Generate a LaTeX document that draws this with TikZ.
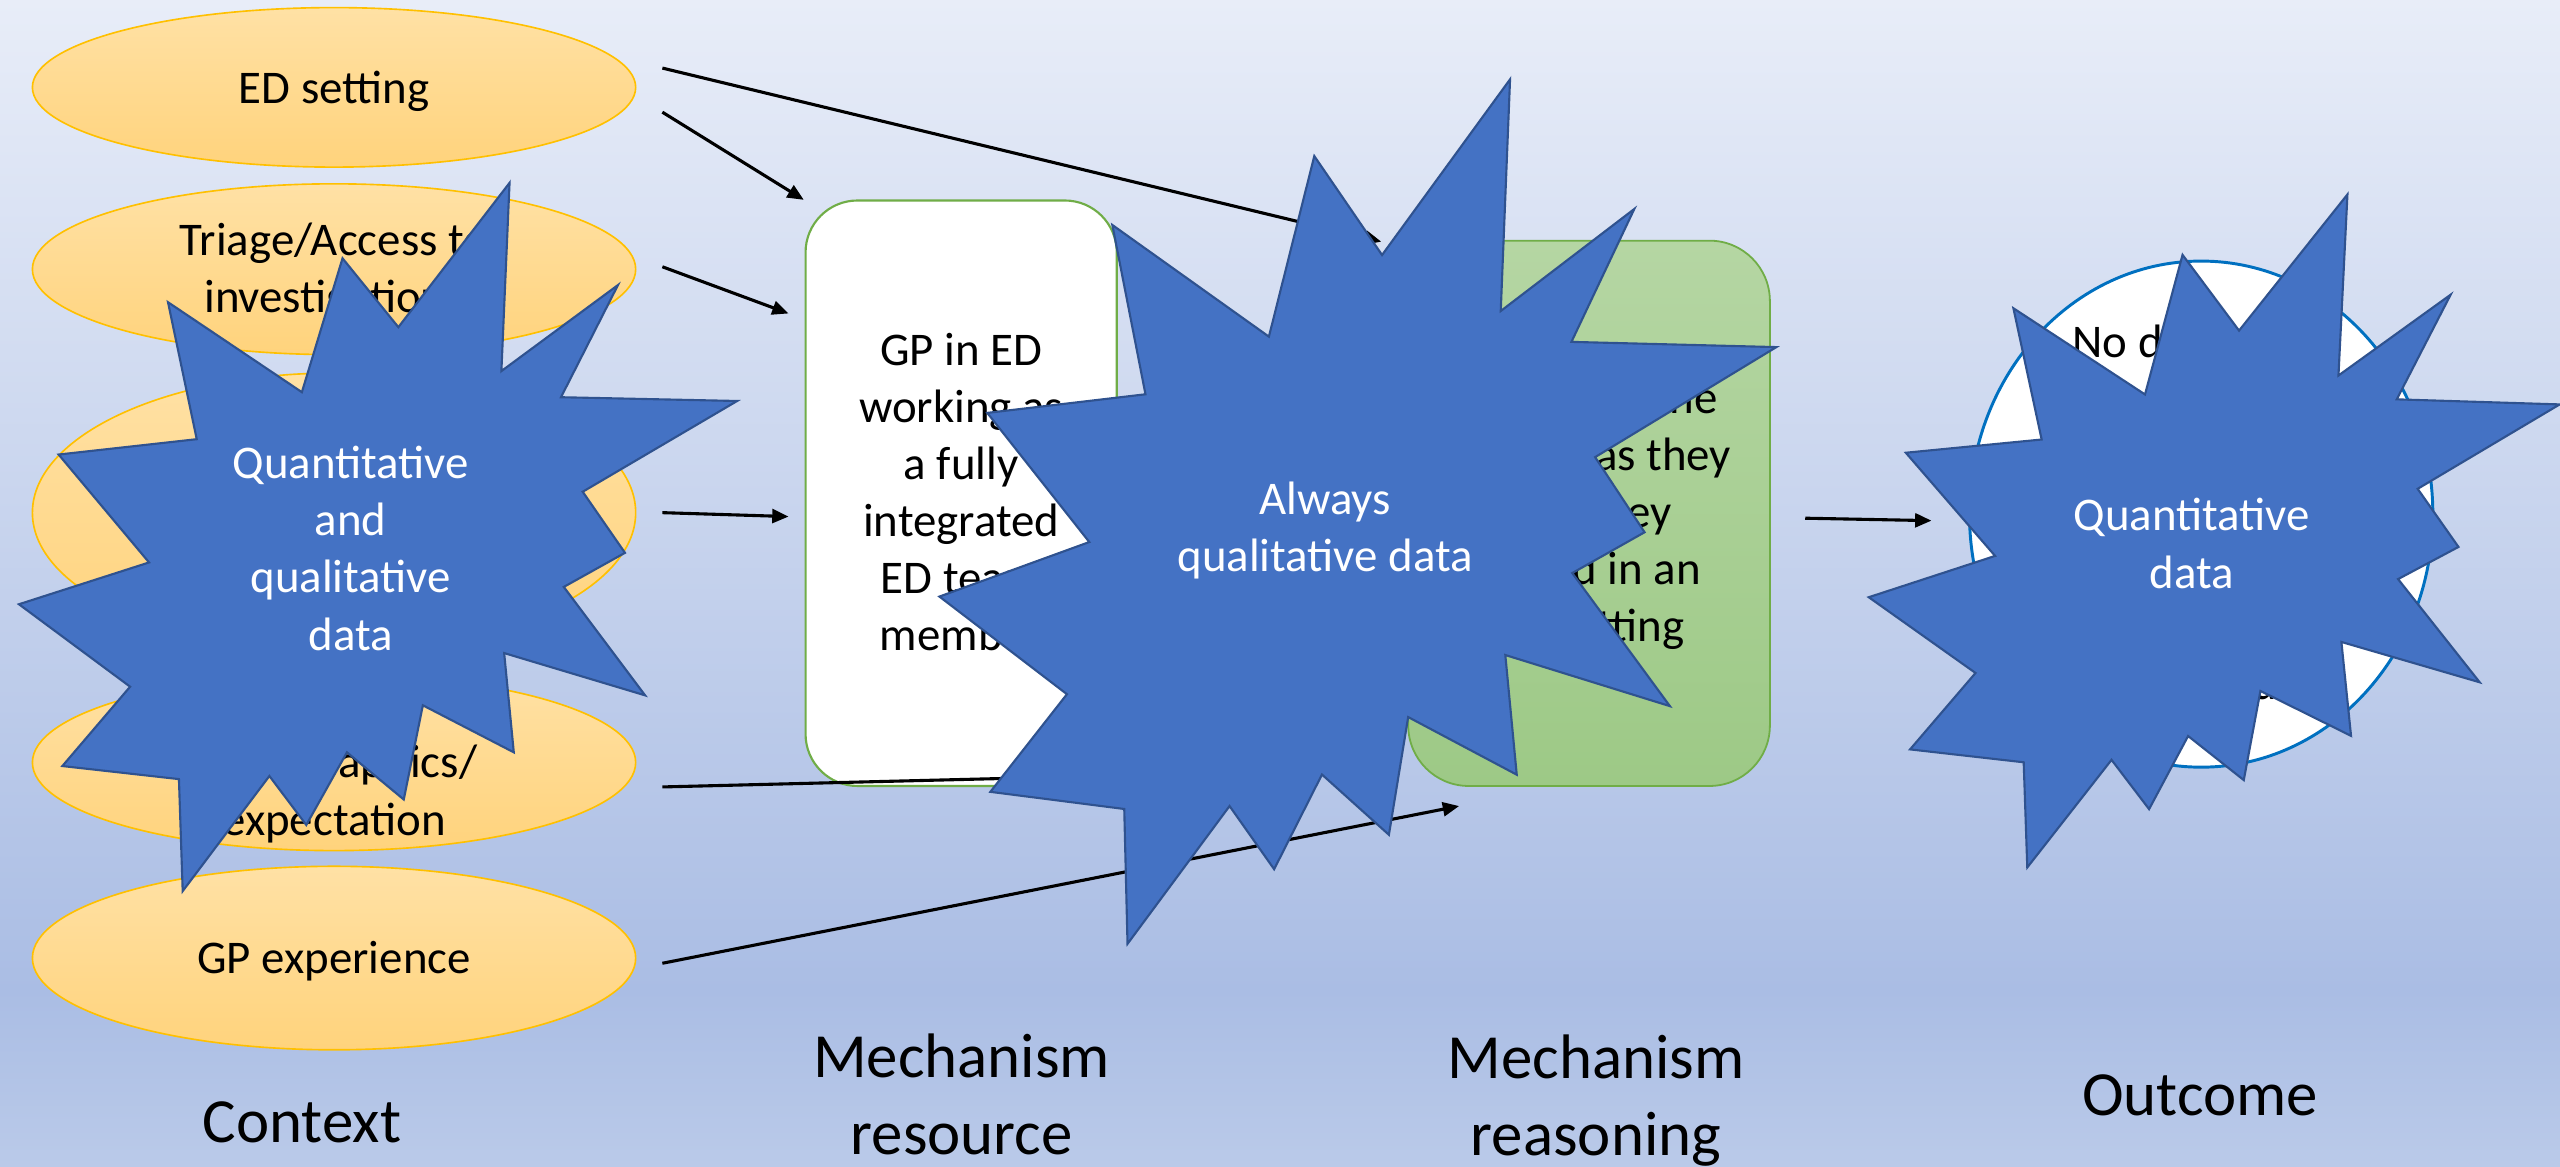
\documentclass[tikz,border=0pt]{standalone}
\usepackage{fontspec}
\setmainfont{Carlito}
\usetikzlibrary{shapes.geometric,arrows.meta,calc}
\definecolor{bgtop}{RGB}{232,237,248}
\definecolor{bgmid}{RGB}{170,189,228}
\definecolor{bgbot}{RGB}{186,202,233}
\definecolor{ellTop}{RGB}{255,225,165}
\definecolor{ellBot}{RGB}{255,211,124}
\definecolor{ellLine}{RGB}{255,192,0}
\definecolor{grTop}{RGB}{181,214,163}
\definecolor{grBot}{RGB}{157,201,134}
\definecolor{grLine}{RGB}{112,173,71}
\definecolor{starFill}{RGB}{68,114,196}
\definecolor{starLine}{RGB}{47,82,143}
\definecolor{circLine}{RGB}{0,112,192}
\begin{document}
\begin{tikzpicture}[x=1pt,y=-1pt,
  ctx/.style={ellipse,draw=ellLine,line width=1pt,top color=ellTop,bottom color=ellBot,
    minimum width=369.5pt,inner sep=0pt,outer sep=0pt},
  resbox/.style={rectangle,draw=grLine,line width=1.3pt,fill=white,rounded corners=31.8pt,
    minimum width=190.6pt,minimum height=358.6pt,inner sep=0pt,outer sep=0pt},
  reabox/.style={rectangle,draw=grLine,line width=1.1pt,top color=grTop,bottom color=grBot,
    rounded corners=37pt,minimum width=221.5pt,minimum height=334pt,inner sep=0pt,outer sep=0pt},
  outc/.style={ellipse,draw=circLine,line width=1.8pt,fill=white,minimum width=283.8pt,
    minimum height=310pt,inner sep=0pt,outer sep=0pt},
  body/.style={font=\fontsize{28.7pt}{35pt}\selectfont,align=center,anchor=base,inner sep=0pt},
  startext/.style={body,text=white},
  lbl/.style={font=\fontsize{38.5pt}{47pt}\selectfont,align=center,anchor=base,inner sep=0pt},
  arr/.style={line width=1.9pt,-{Triangle[length=10pt,width=8.5pt]}},
  starshape/.style={fill=starFill,draw=starLine,line width=1.3pt,line join=miter}
]
\useasboundingbox (0,0) rectangle (1568,714.2);
% background
\shade[top color=bgtop,bottom color=bgmid] (0,0) rectangle (1568,607);
\shade[top color=bgmid,bottom color=bgbot] (0,606.5) rectangle (1568,714.2);

% context ellipses (multi-line texts are placed by the baseline of their last line)
\node[ctx,minimum height=97.7pt] (e1) at (204.6,53.5) {};
\node[ctx,minimum height=104.6pt] (e2) at (204.6,164.9) {};
\node[ctx,minimum height=171pt] (e3) at (204.6,314) {};
\node[ctx,minimum height=108pt] (e4) at (204.6,467) {};
\node[ctx,minimum height=112.4pt] (e5) at (204.6,586.8) {};
\node[body] (e1t) at ($(e1.center)+(0,10.2)$) {ED setting};
\node[body] (e2t) at ($(e2.center)+(0,26.6)$) {Triage/Access to\\investigations};
\node[body] (e4t) at ($(e4.center)+(0,44.5)$) {Patient\\demographics/\\expectation};
\node[body] (e5t) at ($(e5.center)+(0,9.5)$) {GP experience};

% mechanism boxes and outcome
\node[resbox] (res) at (588.7,302.1) {};
\node[body] (rest) at ($(res.center)+(0,96.6)$) {GP in ED\\working as\\a fully\\integrated\\ED team\\member};
\node[reabox] (rea) at (973.3,314.4) {};
\node[body] (reat) at ($(rea.center)+(0,78.6)$) {valued by the\\trusted as they\\feel they\\skilled in an\\ED setting};
\node[outc] (out) at (1348.2,314.9) {};
\node[body] (outt) at ($(out.center)+(0,113.8)$) {No difference\\in waiting\\times or\\admissions\\and\\reattendance\\is found};

% column labels
\node[lbl] (lctx) at (185,699.6) {Context};
\node[lbl] (lres) at (589,707) {Mechanism\\resource};
\node[lbl] (lrea) at (977.5,707.6) {Mechanism\\reasoning};
\node[lbl] (lout) at (1347.5,683.5) {Outcome};

% connectors
\draw[arr] ($(e1.east)+(16.35,-11.8)$) -- ($(rea.north west)+(-16.55,0.6)$);
\draw[arr] ($(e1.east)+(16.35,15.2)$) -- ($(res.north west)+(-1.1,-0.4)$);
\draw[arr] ($(e2.east)+(16.35,-1.5)$) -- ($(res.north west)+(-10.4,69.2)$);
\draw[arr] ($(e3.east)+(16.35,0)$) -- ($(res.west)+(-10.4,14.3)$);
\draw[arr] ($(e4.east)+(16.35,15)$) -- ($(rea.south west)+(-14.55,-10.4)$);
\draw[arr] ($(e5.east)+(16.35,3.2)$) -- ($(rea.south west)+(31.15,12.3)$);
\draw[arr] ($(rea.east)+(21.65,3)$) -- ($(out.west)+(-23.3,4)$);

% explosion shapes
\filldraw[starshape] (312.1,112) -- (307.1,227.3) -- (378.5,174.6) -- (343.6,243.3) -- (451.5,245.6)
  -- (356.9,301.2) -- (382.8,338.6) -- (345.3,359.5) -- (395.1,425.9) -- (308.8,400)
  -- (314.7,460.8) -- (259,432) -- (247.3,489.7) -- (212.5,460.8) -- (187.6,505.3)
  -- (165,475.3) -- (111.9,545.8) -- (109.6,477.2) -- (38.2,469.2) -- (79.7,420.6)
  -- (11.6,370.1) -- (91.3,344.5) -- (35.9,278.4) -- (120.5,269) -- (102.9,185.1)
  -- (184.9,240.2) -- (209.8,158.2) -- (244,200.4) -- cycle;
\filldraw[starshape] (924.9,48.6) -- (919.2,190.5) -- (1001,128) -- (962.5,209.4) -- (1088,212.6)
  -- (977,280) -- (1007.3,326) -- (963,351) -- (1022.8,432.5) -- (922,401.2)
  -- (929,474.5) -- (862.5,439.2) -- (850.7,511.3) -- (809.7,474.4) -- (780.4,532.4)
  -- (753.1,493.7) -- (690.6,578.1) -- (688.6,495.5) -- (606.6,485) -- (653.5,425.2)
  -- (575.4,365.4) -- (667.2,332) -- (604.7,252.9) -- (701.6,241.5) -- (681.3,137.8)
  -- (777.2,206.2) -- (805,95.6) -- (846.5,156.2) -- cycle;
\filldraw[starshape] (1437.8,119.1) -- (1432.3,230) -- (1501,180.5) -- (1468,244.6) -- (1567.8,247.7)
  -- (1480.8,299.4) -- (1505.8,335) -- (1468.8,354.7) -- (1518.8,417.9) -- (1434.1,393.2)
  -- (1440,450.7) -- (1384.5,423.2) -- (1374.3,477.8) -- (1340.2,450.8) -- (1316.3,495.6)
  -- (1293.3,465.4) -- (1241.7,531.3) -- (1239.5,466.9) -- (1169.9,459) -- (1210,412.2)
  -- (1144.6,365.8) -- (1222,340.5) -- (1167.3,277.3) -- (1250.5,269.2) -- (1233.2,188.8)
  -- (1313.8,241.6) -- (1336.8,156.1) -- (1371.4,202.5) -- cycle;
\node[startext] (s1t) at (214.8,398.2) {Quantitative\\and\\qualitative\\data};
\node[startext] (s2t) at (811.7,350.1) {Always\\qualitative data};
\node[startext] (s3t) at (1342.3,360.2) {Quantitative\\data};
\end{tikzpicture}
\end{document}
